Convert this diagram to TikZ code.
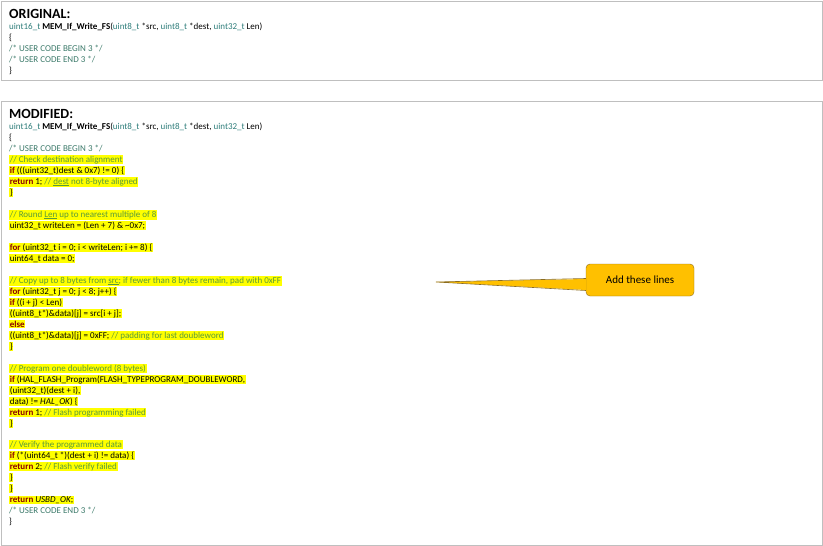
\documentclass[tikz,border=0pt]{standalone}
\usepackage{fontspec}
\setmainfont{Carlito}
\usetikzlibrary{positioning}
\definecolor{typecol}{HTML}{2E7D7A}
\definecolor{cmtcol}{HTML}{5A9A3A}
\definecolor{usercol}{HTML}{3C7A6A}
\definecolor{kwcol}{HTML}{8B0000}
\definecolor{hilite}{HTML}{FFFF00}
\definecolor{notefill}{HTML}{FFC000}
\definecolor{noteedge}{HTML}{8C6D1F}
\newcommand{\ty}[1]{\textcolor{typecol}{#1}}
\newcommand{\cm}[1]{\textcolor{cmtcol}{#1}}
\newcommand{\kw}[1]{\textcolor{kwcol}{\textbf{#1}}}
\newcommand{\uc}[1]{\textcolor{usercol}{#1}}
\begin{document}
\begin{tikzpicture}[x=1pt, y=-1pt,
        every node/.style={inner sep=0pt, anchor=base west, font=\fontsize{9}{10}\selectfont},
        hl/.style={fill=hilite, inner sep=0.6pt},
        title/.style={font=\fontsize{14}{16}\selectfont\bfseries},
        panel/.style={draw=black!25, line width=0.8pt}
]
\useasboundingbox (0,0) rectangle (823,546);
\draw[panel] (1,1) rectangle (822,80);
\draw[panel] (1,101) rectangle (822,545);

% original
\node[title] (t1) at (9,18) {ORIGINAL:};
\node (o1) at (9,29) {\ty{uint16\_t} \textbf{MEM\_If\_Write\_FS}(\ty{uint8\_t} *src, \ty{uint8\_t} *dest, \ty{uint32\_t} Len)};
\node (o2) at (9,40) {\{};
\node (o3) at (9,51) {\uc{/* USER CODE BEGIN 3 */}};
\node (o4) at (9,62) {\uc{/* USER CODE END 3 */}};
\node (o5) at (9,73) {\}};

% modified
\node[title] (t2) at (9,118) {MODIFIED:};
\node (m1) at (9,129) {\ty{uint16\_t} \textbf{MEM\_If\_Write\_FS}(\ty{uint8\_t} *src, \ty{uint8\_t} *dest, \ty{uint32\_t} Len)};
\node (m2) at (9,140) {\{};
\node (m3) at (9,151) {\uc{/* USER CODE BEGIN 3 */}};
\node[hl] (m4) at (9,162) {\cm{// Check destination alignment}};
\node[hl] (m5) at (9,173) {\kw{if} (((uint32\_t)dest \& 0x7) != 0) \{};
\node[hl] (m6) at (9,184) {\kw{return} 1; \cm{// \underline{dest} not 8-byte aligned}};
\node[hl] (m7) at (9,195) {\}};
\node[hl] (m8) at (9,217) {\cm{// Round \underline{Len} up to nearest multiple of 8}};
\node[hl] (m9) at (9,228) {uint32\_t writeLen = (Len + 7) \& \textasciitilde0x7;};
\node[hl] (m10) at (9,250) {\kw{for} (uint32\_t i = 0; i < writeLen; i += 8) \{};
\node[hl] (m11) at (9,261) {uint64\_t data = 0;};
\node[hl] (m12) at (9,283) {\cm{// Copy up to 8 bytes from \underline{src}; if fewer than 8 bytes remain, pad with 0xFF}};
\node[hl] (m13) at (9,294) {\kw{for} (uint32\_t j = 0; j < 8; j++) \{};
\node[hl] (m14) at (9,305) {\kw{if} ((i + j) < Len)};
\node[hl] (m15) at (9,316) {((uint8\_t*)\&data)[j] = src[i + j];};
\node[hl] (m16) at (9,327) {\kw{else}};
\node[hl] (m17) at (9,338) {((uint8\_t*)\&data)[j] = 0xFF; \cm{// padding for last doubleword}};
\node[hl] (m18) at (9,349) {\}};
\node[hl] (m19) at (9,371) {\cm{// Program one doubleword (8 bytes)}};
\node[hl] (m20) at (9,382) {\kw{if} (HAL\_FLASH\_Program(FLASH\_TYPEPROGRAM\_DOUBLEWORD,};
\node[hl] (m21) at (9,393) {(uint32\_t)(dest + i),};
\node[hl] (m22) at (9,404) {data) != \textit{HAL\_OK}) \{};
\node[hl] (m23) at (9,415) {\kw{return} 1; \cm{// Flash programming failed}};
\node[hl] (m24) at (9,426) {\}};
\node[hl] (m25) at (9,447) {\cm{// Verify the programmed data}};
\node[hl] (m26) at (9,458) {\kw{if} (*(uint64\_t *)(dest + i) != data) \{};
\node[hl] (m27) at (9,469) {\kw{return} 2; \cm{// Flash verify failed}};
\node[hl] (m28) at (9,480) {\}};
\node[hl] (m29) at (9,491) {\}};
\node[hl] (m30) at (9,502) {\kw{return} \textit{USBD\_OK};};
\node (m31) at (9,513) {\uc{/* USER CODE END 3 */}};
\node (m32) at (9,524) {\}};

% callout
\node[draw=noteedge, fill=notefill, rounded corners=4pt, minimum width=108pt, minimum height=32pt,
      anchor=center, font=\fontsize{11}{13}\selectfont] (note) at (640,280) {Add these lines};
\coordinate (tip) at (436,282);
\fill[notefill] (tip) -- ([yshift=1pt]note.west) -- ([yshift=-10pt]note.west) -- cycle;
\draw[noteedge, line width=0.6pt] ([yshift=1.5pt]note.west) -- (tip) -- ([yshift=-10.5pt]note.west);
\end{tikzpicture}
\end{document}
